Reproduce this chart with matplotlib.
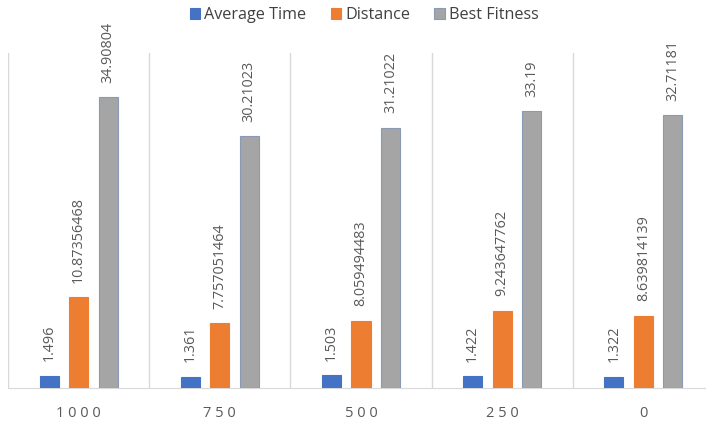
import numpy as np
import matplotlib.pyplot as plt

plt.rcParams['font.family'] = ['Open Sans', 'DejaVu Sans']

categories = ["1000", "750", "500", "250", "0"]
avg_time = [1.496, 1.361, 1.503, 1.422, 1.322]
distance = [10.87356468, 7.757051464, 8.059494483, 9.243647762, 8.639814139]
best_fitness = [34.90804, 30.21023, 31.21022, 33.19, 32.71181]

series = [
    ("Average Time", avg_time, "#4472C4", "#4472C4"),
    ("Distance", distance, "#ED7D31", "#ED7D31"),
    ("Best Fitness", best_fitness, "#A5A5A5", "#8A9AB5"),
]


def make_graph():
    fig = plt.figure(figsize=(7.06, 4.25), dpi=100)
    ax = fig.add_axes([8 / 706, 37 / 425, 706 / 706, 335 / 425])

    x = np.arange(len(categories))
    width = 0.135
    step = 0.209

    for i, (name, vals, color, edge) in enumerate(series):
        pos = x + (i - 1) * step
        ax.bar(pos, vals, width, color=color, edgecolor=edge,
               linewidth=0.8, label=name, zorder=3)
        for px, v in zip(pos, vals):
            ax.annotate(str(v), (px, v), xytext=(0, 10.5),
                        textcoords="offset points", rotation=90,
                        ha="center", va="bottom", fontsize=10.4,
                        color="#595959")

    # separators between the groups
    for b in np.arange(-0.5, len(categories), 1.0):
        ax.axvline(b, color="#D9D9D9", linewidth=1, zorder=1)

    ax.set_xlim(-0.5, len(categories) - 0.5)
    ax.set_ylim(0, 40.2)
    ax.set_yticks([])
    ax.set_xticks(x)
    ax.set_xticklabels([" ".join(c) for c in categories], fontsize=10.5,
                       color="#595959")
    ax.tick_params(axis="x", length=0, pad=13)
    for s in ["top", "left", "right"]:
        ax.spines[s].set_visible(False)
    ax.spines["bottom"].set_color("#D9D9D9")

    fig.legend(loc="upper center", bbox_to_anchor=(0.516, 1.018), ncol=3,
               frameon=False, fontsize=11.6, handlelength=0.65,
               handleheight=0.7, handletextpad=0.25, columnspacing=1.5,
               labelcolor="#404040")

    fig.savefig("out.png", dpi=100)


if __name__ == "__main__":
    make_graph()
